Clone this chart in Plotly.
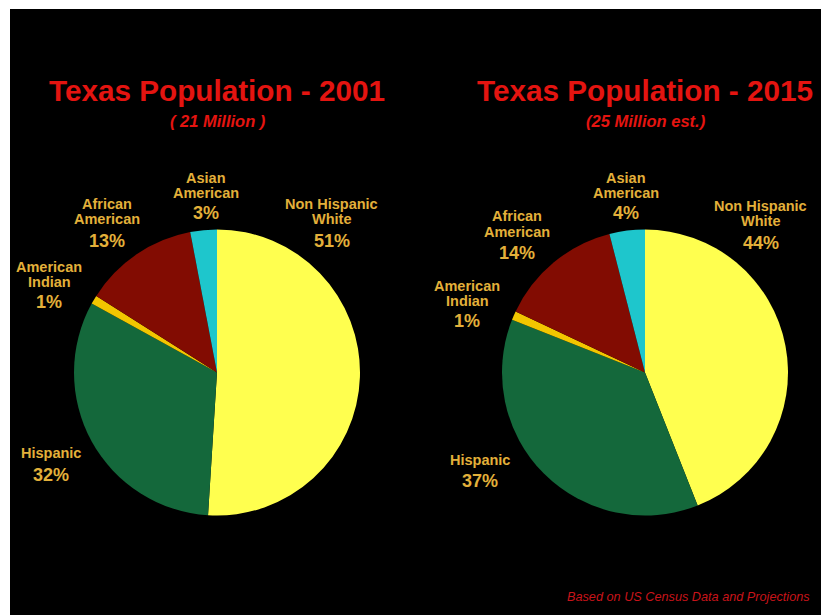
import plotly.graph_objects as go

# Population share by group (percent)
categories = ["Non Hispanic White", "Hispanic", "American Indian", "African American", "Asian American"]
label_lines = [["Non Hispanic", "White"], ["Hispanic"], ["American", "Indian"], ["African", "American"], ["Asian", "American"]]
pop_2001 = [51, 32, 1, 13, 3]
pop_2015 = [44, 37, 1, 14, 4]
years = ["2001", "2015"]
subtitles = ["( 21 Million )", "(25 Million est.)"]
footer = "Based on US Census Data and Projections"

W, H = 821, 615
slice_colors = ["#FFFF4F", "#14683B", "#F2C600", "#820C02", "#1EC6CC"]
label_color = "#E3B03A"
title_red = "#E41410"
FONT = "Liberation Sans, Arial, sans-serif"

# pixel layout of each panel: pie centre, radius, title centre, label anchors
panels = [
    dict(values=pop_2001, cx=217, cy=372.5, r=143, tx=217.5, sx=218,
         name_pos=[[(331.5, 203), (331.5, 218)], [(50.5, 452)], [(49, 265.5), (49, 280.5)],
                   [(107, 203), (107, 218)], [(206, 177), (206, 192)]],
         pct_pos=[(331.5, 240), (50.5, 474), (49, 301), (107, 240), (206, 212)]),
    dict(values=pop_2015, cx=645, cy=372.5, r=143, tx=645, sx=646,
         name_pos=[[(760.5, 205.5), (760.5, 220.5)], [(480, 458.5)], [(467.5, 284.5), (467.5, 299.5)],
                   [(517, 215), (517, 230.5)], [(626, 177), (626, 192)]],
         pct_pos=[(760.5, 242), (480, 479.5), (467.5, 320), (517, 252), (626, 212)]),
]


def px(x):
    return x / W


def py(y):
    return 1 - y / H


fig = go.Figure()
annotations = []

for i, p in enumerate(panels):
    fig.add_trace(go.Pie(
        labels=categories,
        values=p["values"],
        sort=False,
        direction="clockwise",
        rotation=0,
        textinfo="none",
        hoverinfo="label+percent",
        marker=dict(colors=slice_colors, line=dict(width=0)),
        domain=dict(x=[px(p["cx"] - p["r"]), px(p["cx"] + p["r"])],
                    y=[py(p["cy"] + p["r"]), py(p["cy"] - p["r"])]),
        showlegend=False,
    ))
    # title and subtitle
    annotations.append(dict(x=px(p["tx"]), y=py(90), xref="paper", yref="paper",
                            text="<b>Texas Population - %s</b>" % years[i], showarrow=False,
                            xanchor="center", yanchor="middle",
                            font=dict(family=FONT, size=29.7, color=title_red)))
    annotations.append(dict(x=px(p["sx"]), y=py(121), xref="paper", yref="paper",
                            text="<b><i>%s</i></b>" % subtitles[i], showarrow=False,
                            xanchor="center", yanchor="middle",
                            font=dict(family=FONT, size=16.5, color=title_red)))
    # slice labels: name lines then percentage
    for k, lines in enumerate(label_lines):
        for line, (lx, ly) in zip(lines, p["name_pos"][k]):
            annotations.append(dict(x=px(lx), y=py(ly + 1), xref="paper", yref="paper",
                                    text="<b>%s</b>" % line, showarrow=False,
                                    xanchor="center", yanchor="middle",
                                    font=dict(family=FONT, size=14.5, color=label_color)))
        lx, ly = p["pct_pos"][k]
        annotations.append(dict(x=px(lx), y=py(ly + 1), xref="paper", yref="paper",
                                text="<b>%d%%</b>" % p["values"][k], showarrow=False,
                                xanchor="center", yanchor="middle",
                                font=dict(family=FONT, size=18, color=label_color)))

annotations.append(dict(x=px(812), y=py(597), xref="paper", yref="paper",
                        text="<i>%s</i>" % footer, showarrow=False,
                        xanchor="right", yanchor="middle",
                        font=dict(family=FONT, size=12.7, color="#C8141A")))

fig.update_layout(
    width=W, height=H,
    margin=dict(l=0, r=0, t=0, b=0),
    paper_bgcolor="white",
    plot_bgcolor="black",
    annotations=annotations,
    shapes=[dict(type="rect", xref="paper", yref="paper", layer="below",
                 x0=px(10), x1=1, y0=0, y1=py(9),
                 fillcolor="black", line=dict(width=0))],
)

fig.write_html("out.html")
